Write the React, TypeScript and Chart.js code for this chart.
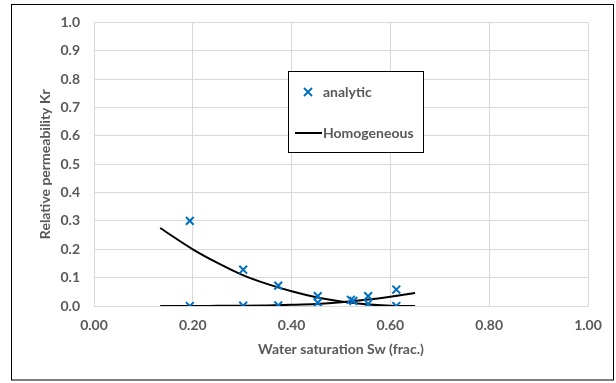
import React, { useEffect, useRef } from "react";
import { Chart, registerables } from "chart.js";

Chart.register(...registerables);

// Analytic points (Sw, Kr)
const analyticSw = [0.194, 0.194, 0.302, 0.302, 0.373, 0.373, 0.453, 0.453, 0.520, 0.525, 0.555, 0.555, 0.612, 0.612];
const analyticKr = [0.300, 0.000, 0.128, 0.001, 0.072, 0.002, 0.035, 0.012, 0.022, 0.018, 0.035, 0.008, 0.058, 0.000];

// Homogeneous curves
const homSw = [0.134, 0.2, 0.25, 0.3, 0.35, 0.4, 0.45, 0.5, 0.55, 0.6, 0.65];
const homKro = [0.275, 0.200, 0.152, 0.110, 0.078, 0.052, 0.031, 0.016, 0.006, 0.001, 0.0];
const homKrw = [0.0, 0.0, 0.0005, 0.001, 0.002, 0.004, 0.007, 0.013, 0.022, 0.033, 0.046];

const xTicks = [0, 0.2, 0.4, 0.6, 0.8, 1.0];
const yTicks = [0, 0.1, 0.2, 0.3, 0.4, 0.5, 0.6, 0.7, 0.8, 0.9, 1.0];

const legendLabels = ["analytic", "Homogeneous"];

const FONT = "Lato, 'Liberation Sans', sans-serif";
const GRAY = "#595959";
const BLUE = "#0070C0";
const GRID = "#d9d9d9";

export default function App() {
  const ref = useRef<HTMLCanvasElement | null>(null);

  useEffect(() => {
    if (!ref.current) return;

    const framePlugin = {
      id: "frame",
      afterDraw(chart: any) {
        const ctx = chart.ctx;
        ctx.save();
        // outer border
        ctx.strokeStyle = "#000";
        ctx.lineWidth = 1;
        ctx.strokeRect(11.5, 4.5, 602, 375.5);
        // legend box
        ctx.fillStyle = "#fff";
        ctx.fillRect(288, 71, 136, 82);
        ctx.strokeStyle = "#000";
        ctx.strokeRect(288.5, 71.5, 135, 81);
        // marker
        ctx.strokeStyle = BLUE;
        ctx.lineWidth = 2;
        const mx = 308, my = 92, s = 4;
        ctx.beginPath();
        ctx.moveTo(mx - s, my - s);
        ctx.lineTo(mx + s, my + s);
        ctx.moveTo(mx + s, my - s);
        ctx.lineTo(mx - s, my + s);
        ctx.stroke();
        // line
        ctx.strokeStyle = "#000";
        ctx.beginPath();
        ctx.moveTo(295, 133);
        ctx.lineTo(322, 133);
        ctx.stroke();
        ctx.fillStyle = GRAY;
        ctx.font = `bold 14px ${FONT}`;
        ctx.textBaseline = "middle";
        ctx.textAlign = "left";
        ctx.fillText(legendLabels[0], 323, 92);
        ctx.fillText(legendLabels[1], 323, 133);
        ctx.restore();
      },
    };

    const chart = new Chart(ref.current, {
      type: "scatter",
      data: {
        datasets: [
          {
            label: legendLabels[0],
            data: analyticSw.map((x, i) => ({ x, y: analyticKr[i] })),
            pointStyle: "crossRot",
            pointRadius: 5.5,
            pointBorderWidth: 2,
            borderColor: BLUE,
            backgroundColor: BLUE,
            showLine: false,
          },
          {
            label: legendLabels[1],
            data: homSw.map((x, i) => ({ x, y: homKro[i] })),
            showLine: true,
            borderColor: "#000",
            borderWidth: 2,
            pointRadius: 0,
            cubicInterpolationMode: "monotone",
          },
          {
            label: legendLabels[1] + " 2",
            data: homSw.map((x, i) => ({ x, y: homKrw[i] })),
            showLine: true,
            borderColor: "#000",
            borderWidth: 2,
            pointRadius: 0,
            cubicInterpolationMode: "monotone",
          },
        ],
      } as any,
      options: {
        responsive: false,
        animation: false,
        layout: { padding: { left: 12, right: 28, top: 17, bottom: 4 } },
        plugins: { legend: { display: false }, tooltip: { enabled: false } },
        scales: {
          x: {
            type: "linear",
            min: 0,
            max: 1,
            afterBuildTicks: (s: any) => {
              s.ticks = xTicks.map((v) => ({ value: v }));
            },
            afterFit: (s: any) => {
              s.height = 73;
            },
            ticks: {
              color: GRAY,
              font: { family: FONT, size: 14, weight: "bold" },
              padding: 11,
              callback: (v: any) => Number(v).toFixed(2),
            },
            grid: { color: GRID, drawTicks: false },
            border: { color: GRID },
            title: {
              display: true,
              text: "Water saturation Sw (frac.)",
              color: GRAY,
              font: { family: FONT, size: 14, weight: "bold" },
              padding: { top: 4, bottom: 21 },
            },
          },
          y: {
            type: "linear",
            min: 0,
            max: 1,
            afterBuildTicks: (s: any) => {
              s.ticks = yTicks.map((v) => ({ value: v }));
            },
            afterFit: (s: any) => {
              s.width = 82;
            },
            ticks: {
              color: GRAY,
              font: { family: FONT, size: 14, weight: "bold" },
              padding: 14,
              callback: (v: any) => Number(v).toFixed(1),
            },
            grid: { color: GRID, drawTicks: false },
            border: { color: GRID },
            title: {
              display: true,
              text: "Relative permeability Kr",
              color: GRAY,
              font: { family: FONT, size: 14, weight: "bold" },
              padding: { top: 25, bottom: 4 },
            },
          },
        },
      } as any,
      plugins: [framePlugin],
    });

    return () => chart.destroy();
  }, []);

  return (
    <div style={{ position: "fixed", left: 0, top: 0, width: 616, height: 383, background: "#fff" }}>
      <canvas ref={ref} width={616} height={383} style={{ display: "block" }} />
    </div>
  );
}
